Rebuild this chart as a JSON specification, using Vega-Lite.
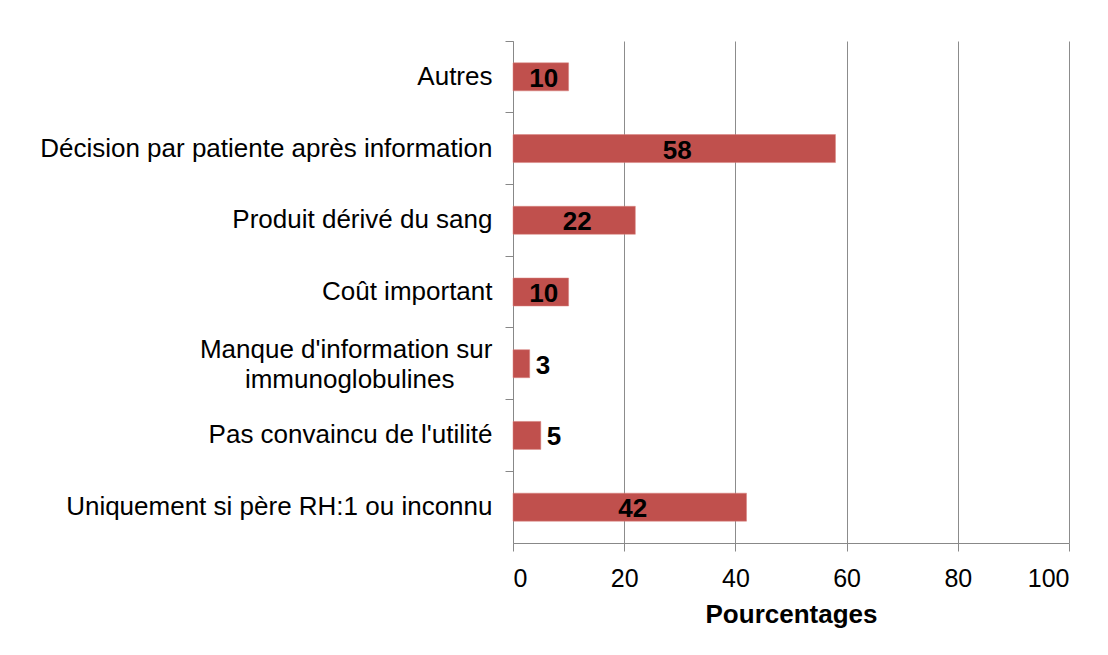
{
  "$schema": "https://vega.github.io/schema/vega-lite/v6.json",
  "width": 556,
  "height": 502,
  "autosize": {"type": "none"},
  "padding": {"left": 513, "top": 41, "right": 39, "bottom": 112},
  "background": "white",
  "data": {
    "values": [
      {"motif": "Autres", "pct": 10},
      {"motif": "Décision par patiente après information", "pct": 58},
      {"motif": "Produit dérivé du sang", "pct": 22},
      {"motif": "Coût important", "pct": 10},
      {"motif": "Manque d'information sur immunoglobulines", "pct": 3},
      {"motif": "Pas convaincu de l'utilité", "pct": 5},
      {"motif": "Uniquement si père RH:1 ou inconnu", "pct": 42}
    ]
  },
  "encoding": {
    "y": {
      "field": "motif",
      "type": "nominal",
      "sort": null,
      "scale": {"paddingInner": 0, "paddingOuter": 0},
      "axis": {
        "title": null,
        "bandPosition": 0,
        "grid": false,
        "domainColor": "#888888",
        "tickColor": "#888888",
        "tickSize": 8,
        "labelPadding": 13,
        "labelFont": "Liberation Sans",
        "labelFontSize": 26,
        "labelColor": "#000000",
        "labelLimit": 700,
        "labelLineHeight": 30,
        "labelOffset": {"expr": "datum.value == \"Manque d'information sur immunoglobulines\" ? -14 : 0"},
        "labelExpr": "datum.value == \"Manque d'information sur immunoglobulines\" ? [\"Manque d'information sur\", \"immunoglobulines\u2800\u2800\"] : datum.label"
      }
    }
  },
  "layer": [
    {
      "mark": {"type": "bar", "color": "#C0504D", "size": 28, "stroke": "#D8837F", "strokeWidth": 0.5},
      "encoding": {
        "x": {
          "field": "pct",
          "type": "quantitative",
          "scale": {"domain": [0, 100], "nice": false},
          "axis": {
            "title": "Pourcentages",
            "values": [0, 20, 40, 60, 80, 100],
            "grid": true,
            "gridColor": "#8c8c8c",
            "gridWidth": 1,
            "domainColor": "#888888",
            "tickColor": "#888888",
            "tickSize": 8,
            "labelPadding": 15,
            "labelFont": "Liberation Sans",
            "labelFontSize": 25,
            "labelColor": "#000000",
            "titleFont": "Liberation Sans",
            "titleFontSize": 26,
            "titleFontWeight": "bold",
            "titleColor": "#000000",
            "titlePadding": 10
          }
        }
      }
    },
    {
      "transform": [{"filter": "datum.pct >= 10"}, {"calculate": "datum.pct / 2", "as": "mid"}],
      "mark": {"type": "text", "font": "Liberation Sans", "fontSize": 26, "fontWeight": "bold", "color": "#000000", "align": "center", "baseline": "middle", "dx": 3, "dy": 2},
      "encoding": {
        "x": {"field": "mid", "type": "quantitative"},
        "text": {"field": "pct", "type": "quantitative"}
      }
    },
    {
      "transform": [{"filter": "datum.pct < 10"}],
      "mark": {"type": "text", "font": "Liberation Sans", "fontSize": 26, "fontWeight": "bold", "color": "#000000", "align": "left", "baseline": "middle", "dx": 6, "dy": 2},
      "encoding": {
        "x": {"field": "pct", "type": "quantitative"},
        "text": {"field": "pct", "type": "quantitative"}
      }
    }
  ],
  "config": {"view": {"stroke": null}}
}
